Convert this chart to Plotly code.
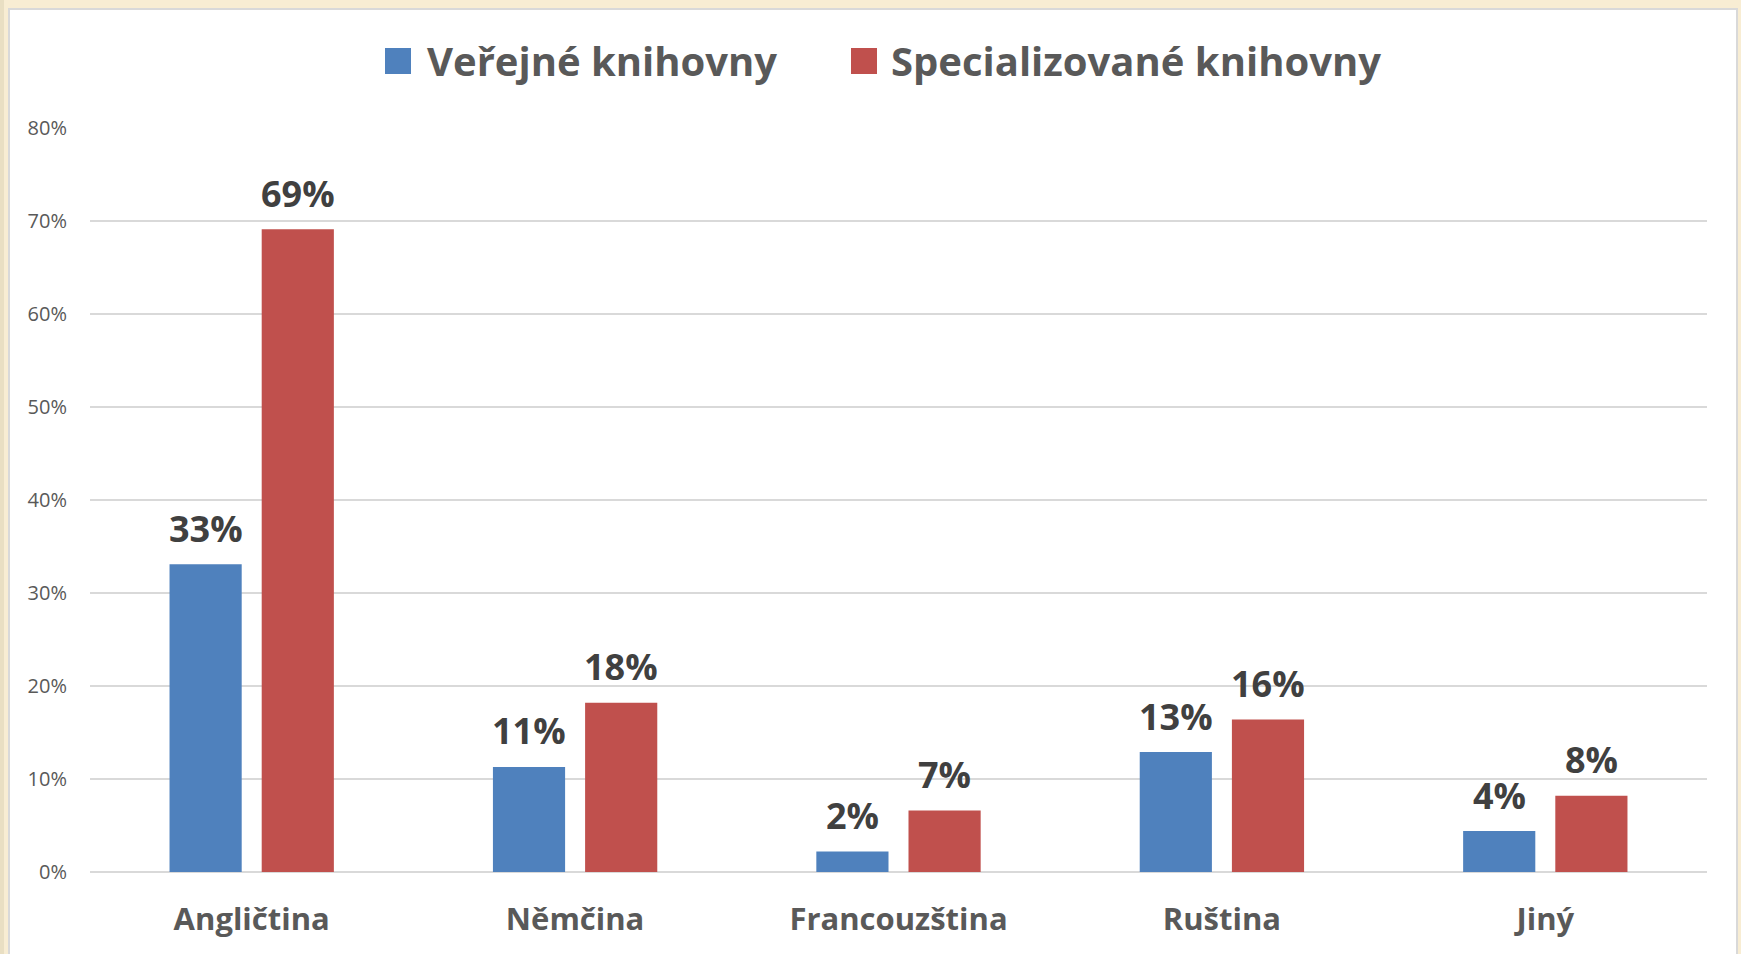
import plotly.graph_objects as go

categories = ["Angličtina", "Němčina", "Francouzština", "Ruština", "Jiný"]
verejne = [33.1, 11.3, 2.2, 12.9, 4.4]
specializovane = [69.1, 18.2, 6.6, 16.4, 8.2]
series_names = ["Veřejné knihovny", "Specializované knihovny"]
colors = ["#4F81BD", "#C0504D"]

W, H = 1741, 954
L, R, T, B = 90, 34, 128, 82
PW, PH = W - L - R, H - T - B

def px(x):
    return (x - L) / PW

def py(y):
    return (H - B - y) / PH

FONT = "Open Sans"

fig = go.Figure()
annotations = []
slot_shift = [-46, 46]
for name, vals, col, dx in zip(series_names, [verejne, specializovane], colors, slot_shift):
    fig.add_trace(go.Bar(
        x=categories, y=vals, name=name, marker=dict(color=col, line=dict(width=0)),
        showlegend=False,
    ))
    for c, v in zip(categories, vals):
        annotations.append(dict(x=c, y=v, xref="x", yref="y", text=f"<b>{round(v)}%</b>",
                                showarrow=False, xanchor="center", yanchor="middle",
                                xshift=dx, yshift=36,
                                font=dict(family=FONT, size=36, color="#404040")))

shapes = [
    dict(type="rect", xref="paper", yref="paper", x0=px(9), x1=px(1737), y0=py(960), y1=py(9),
         fillcolor="white", line=dict(color="#D9D9D9", width=2), layer="below"),
    dict(type="rect", xref="paper", yref="paper", x0=px(-5), x1=px(4), y0=py(960), y1=py(-5),
         fillcolor="#E9DFC3", line=dict(width=0), layer="below"),
]
legend_pos = [(385, 425), (851, 889)]
for (sx, tx), name, col in zip(legend_pos, series_names, colors):
    shapes.append(dict(type="rect", xref="paper", yref="paper", x0=px(sx), x1=px(sx + 26),
                       y0=py(74), y1=py(48), fillcolor=col, line=dict(width=0)))
    annotations.append(dict(xref="paper", yref="paper", x=px(tx), y=py(60), text=f"<b>{name}</b>",
                            showarrow=False, xanchor="left", yanchor="middle",
                            font=dict(family=FONT, size=40, color="#595959")))

fig.update_layout(
    width=W, height=H, margin=dict(l=L, r=R, t=T, b=B),
    paper_bgcolor="#F8EDD3", plot_bgcolor="rgba(0,0,0,0)",
    barmode="group", bargap=0.43, bargroupgap=0.217,
    shapes=shapes, annotations=annotations,
    xaxis=dict(tickfont=dict(family=FONT, size=31, color="#595959", weight="bold"),
               showgrid=False, showline=False, ticks="", ticklabelstandoff=26),
    yaxis=dict(range=[0, 80], dtick=10, ticksuffix="%", showgrid=True, gridcolor="#D9D9D9",
               gridwidth=1.5, zeroline=True, zerolinecolor="#D9D9D9", zerolinewidth=1.5,
               tickfont=dict(family=FONT, size=20, color="#595959"), ticklabelstandoff=22),
)

fig.write_html("out.html", config={"displayModeBar": False},
               post_script="document.body.style.margin='0';document.body.style.background='#F8EDD3';")
